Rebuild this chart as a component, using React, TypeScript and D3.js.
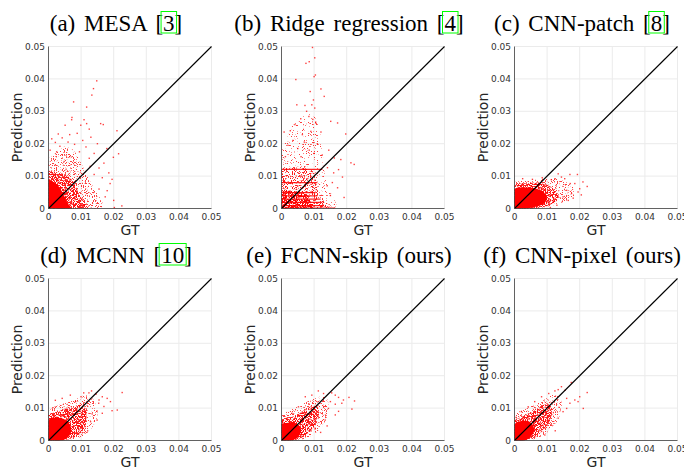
import React, { useRef, useEffect } from "react";
import * as d3 from "d3";

// all cloud / point values below are in units of 1e-3 : [GT, Prediction]
const UNIT = 1e-3;
const AXIS_MAX = 0.05;
const TICKS = [0, 0.01, 0.02, 0.03, 0.04, 0.05];
const TICK_LABELS = ["0", "0.01", "0.02", "0.03", "0.04", "0.05"];

const titles = ["(a) MESA", "(b) Ridge regression", "(c) CNN-patch", "(d) MCNN", "(e) FCNN-skip (ours)", "(f) CNN-pixel (ours)"];
const refs = ["3", "4", "8", "10", "", ""];

// (a) MESA
const mesaSpread = [[0,0],[16,0],[16.5,2],[15,4.5],[13.5,7],[12,10],[10.5,13],[9,16],[7,18.5],[4.5,19],[2,17],[0,15]];
const mesaDense = [[0,0],[12,0],[11,2],[9.5,4],[8.5,6.5],[7,9],[5,10.5],[2.5,11],[0,11.5]];
const mesaCore = [[0,0],[7,0],[6,1.5],[5,3.5],[4,5.5],[2.5,7.5],[1,8.5],[0,9]];
const mesaPoints = [[14.8,39.4],[13.8,37.0],[13.3,35.0],[7.7,32.9],[11.7,31.3],[7.2,28.1],[7.1,27.4],[10.9,27.4],[11.7,26.2],[16.0,26.2],[16.8,25.9],[5.1,25.7],[9.9,25.7],[21.0,24.0],[12.5,24.5],[3.0,23.0],[6.5,22.8],[8.8,23.2],[4.2,21.8],[1.0,21.5],[2.1,20.4],[10.5,21.0],[13.0,22.0],[6.0,20.5],[15.0,20.0],[8.0,19.8],[11.5,19.0],[3.5,19.2],[21.5,16.9],[19.9,15.8],[17.9,18.5],[14.0,17.0],[12.5,15.5],[9.5,17.5],[17.0,14.0],[15.5,12.5],[18.5,11.0],[16.5,9.5],[19.5,9.0],[18.9,7.7],[17.4,3.6],[20.2,0.3],[22.5,0.8],[15.5,6.0],[14.0,10.5],[12.8,13.0],[6.5,16.0],[2.5,17.5],[0.5,18.0],[4.8,14.5],[18.0,5.5],[20.0,2.5]];

// (b) Ridge regression
const ridgeSpread = [[0,0],[17,0],[16,3],[14.5,6],[13.5,9],[13,13],[12.5,19],[11.5,25],[9.5,29],[6,28],[3,25],[1,20],[0,17]];
const ridgeDense = [[0,0],[16.5,0],[14,1.5],[12,3.5],[11,6],[10.5,9],[9,12.5],[6,13],[2,12.5],[0,12.5]];
const ridgeCore = [[0,0],[10,0],[9,2],[8,4],[6,5],[3,5.5],[0,5.5]];
const ridgeStripes = [[12.1,0,12.5],[8.0,0,11],[4.9,0,10.5],[3.9,0,11],[2.9,0,12],[1.9,0,12.5],[0.9,0,13],[0.15,0,16.5]];
const ridgePoints = [[9.5,49.7],[10.2,46.5],[8.5,45.3],[7.5,44.8],[10.0,40.7],[4.4,39.8],[10.4,41.2],[8.8,36.1],[12.1,36.9],[9.8,33.5],[13.1,34.6],[9.3,32.0],[7.2,31.8],[4.7,32.0],[10.2,31.0],[7.7,30.0],[8.4,28.4],[5.9,27.7],[9.6,27.5],[4.1,25.9],[10.5,26.4],[15.1,26.9],[17.2,26.4],[2.7,24.0],[9.0,23.8],[12.1,23.6],[19.7,23.0],[0.8,23.6],[6.4,22.8],[21.3,14.1],[22.3,13.6],[18.2,15.1],[16.2,15.6],[18.7,9.7],[17.2,6.4],[19.2,3.4],[15.6,8.0],[14.1,12.6],[3.5,21.0],[7.0,20.5],[11.0,20.0],[5.0,18.5],[8.5,18.0],[10.0,17.0],[2.0,19.5],[12.5,16.5],[14.5,18.0],[1.2,16.0],[6.0,16.0],[16.0,11.0],[17.5,12.0],[15.0,4.0],[14.0,7.0]];

// (c) CNN-patch
const patchSpread = [[0,0],[6,0],[12,1],[16,2.5],[18.5,4],[18,6.5],[15,8.5],[11,9.5],[7,9],[3,8.5],[0,8]];
const patchDense = [[0,0],[8,0.3],[11.5,1.5],[13.5,3],[13,5],[10.5,7],[7,8],[3.5,7.8],[0,7]];
const patchCore = [[0,0],[6,0.5],[9,1.5],[10,3],[9,5],[6.5,6.2],[3,6.5],[0,6]];
const patchPoints = [[17.0,10.5],[19.3,10.5],[14.4,9.7],[15.4,9.2],[22.3,6.8],[21.0,8.2],[18.5,7.7],[17.1,7.7],[20.0,6.1],[16.0,5.6],[17.5,4.6],[13.4,10.7],[12.4,9.2],[11.3,8.9],[14.9,3.6],[19.5,5.1],[16.5,2.5],[13.0,1.0],[8.5,9.5],[5.5,9.0],[2.5,9.2],[18.0,3.2],[20.5,4.2],[11.0,0.3]];

// (d) MCNN
const mcnnSpread = [[0,0],[4,0],[9,0.8],[12,2.5],[14,5],[15,8],[14.5,11],[13,13.5],[11,14],[8,12.5],[5,11.5],[2,10.5],[0,9.5]];
const mcnnDense = [[0,0],[4,0],[8,1],[10.5,3],[11.5,6],[11.5,9],[10,11],[7.5,10.5],[4.5,9.5],[1.5,8.5],[0,8]];
const mcnnCore = [[0,0],[4,0],[6,1],[7,3],[6.5,5],[5,6.5],[3,7],[1,7],[0,6]];
const mcnnPoints = [[13.2,15.3],[12.4,14.7],[10.8,14.7],[14.6,14.3],[22.6,14.8],[16.5,13.5],[18.0,13.0],[19.0,12.0],[15.4,11.5],[19.5,9.2],[21.1,9.4],[14.9,9.1],[16.5,8.4],[13.4,8.2],[14.9,6.3],[12.9,5.8],[7.8,1.2],[11.3,4.3],[9.3,2.2],[6.7,14.0],[4.2,13.0],[2.1,12.4],[8.3,12.0],[10.0,13.5],[17.0,10.5],[12.0,3.0],[15.5,12.5]];

// (e) FCNN-skip
const skipSpread = [[0,0],[3,0],[7,0.5],[10,2],[12.5,4.5],[14,7.5],[14.5,10.5],[13.5,13.5],[11,13.5],[8,12],[5,10.5],[2,9],[0,7.5]];
const skipDense = [[0,0],[3,0],[6,0.8],[8.5,2.5],[10.5,5],[11.5,8],[11,10.5],[9,10.5],[6.5,9],[4,7.5],[1.5,7],[0,6]];
const skipCore = [[0,0],[3,0],[5,1],[6,3],[5.5,4.5],[4,5.5],[2,5.5],[0,5]];
const skipPoints = [[11.3,15.3],[12.9,14.5],[15.4,14.7],[16.5,14.0],[17.5,13.3],[19.0,12.5],[22.4,12.2],[20.7,13.3],[18.5,11.5],[16.5,11.2],[21.6,9.7],[14.4,9.9],[16.5,7.9],[13.4,6.3],[10.3,3.8],[8.8,3.3],[5.2,10.4],[3.2,8.4],[7.3,13.5],[9.3,14.0],[15.0,12.0],[12.0,2.5],[17.5,9.0],[14.0,4.5]];

// (f) CNN-pixel
const pixelSpread = [[0,0],[3,0],[7,0.8],[10,2.5],[12.5,5],[14,8],[14.5,11],[13.5,14],[11.5,14],[9,12.5],[6,11],[3,9.5],[0,8]];
const pixelDense = [[0,0],[3,0],[6,1],[8.5,3],[10.5,5.5],[11.5,8.5],[11,11],[9,11],[6.5,9.5],[4,8],[1.5,7],[0,6]];
const pixelCore = [[0,0],[3,0],[5,1.2],[6,3],[5.5,5],[4,6],[2,6],[0,5]];
const pixelPoints = [[17.4,17.9],[14.4,16.6],[13.4,15.7],[12.4,15.3],[15.5,15.5],[22.3,14.8],[20.0,13.5],[18.5,12.5],[19.5,12.0],[17.0,11.5],[16.0,9.9],[14.9,8.9],[21.1,9.9],[13.4,6.9],[11.3,4.8],[9.3,1.7],[8.3,2.8],[6.2,12.0],[4.2,10.4],[2.1,8.9],[8.3,13.5],[10.5,14.5],[16.0,13.0],[12.5,3.0]];

const spreads = [mesaSpread, ridgeSpread, patchSpread, mcnnSpread, skipSpread, pixelSpread];
const denses = [mesaDense, ridgeDense, patchDense, mcnnDense, skipDense, pixelDense];
const cores = [mesaCore, ridgeCore, patchCore, mcnnCore, skipCore, pixelCore];
const sparsePoints = [mesaPoints, ridgePoints, patchPoints, mcnnPoints, skipPoints, pixelPoints];

// layout
const COL_LEFT = [48.5, 281.5, 514.5];
const ROW_TOP = [46.5, 278.5];
const PLOT_W = 163;
const PLOT_H = 162;

const SANS = "'DejaVu Sans', sans-serif";
const SERIF = "'Liberation Serif', 'Times New Roman', serif";

// speckle filter: keeps the fill only where a noise texture passes a threshold
function addSpeckle(defs: any, id: string, threshold: number, seed: number) {
  const f = defs.append("filter").attr("id", id)
    .attr("filterUnits", "userSpaceOnUse")
    .attr("x", 0).attr("y", 0).attr("width", 684).attr("height", 468);
  f.append("feTurbulence").attr("type", "fractalNoise").attr("baseFrequency", 0.9)
    .attr("numOctaves", 2).attr("seed", seed).attr("result", "noise");
  const k = 14;
  f.append("feColorMatrix").attr("in", "noise").attr("type", "matrix")
    .attr("values", `0 0 0 0 0  0 0 0 0 0  0 0 0 0 0  ${k} 0 0 0 ${-k * threshold}`)
    .attr("result", "mask");
  f.append("feComposite").attr("in", "SourceGraphic").attr("in2", "mask").attr("operator", "in");
}

export default function App() {
  const svgRef = useRef<SVGSVGElement>(null);

  useEffect(() => {
    const svg = d3.select(svgRef.current);
    svg.selectAll("*").remove();
    const defs = svg.append("defs");
    addSpeckle(defs, "speck-sparse", 0.64, 2);
    addSpeckle(defs, "speck-lo", 0.56, 4);
    addSpeckle(defs, "speck-mid", 0.46, 9);

    titles.forEach((title, i) => {
      const left = COL_LEFT[i % 3];
      const top = ROW_TOP[Math.floor(i / 3)];
      const x = d3.scaleLinear().domain([0, AXIS_MAX]).range([left, left + PLOT_W]);
      const y = d3.scaleLinear().domain([0, AXIS_MAX]).range([top + PLOT_H, top]);
      const g = svg.append("g");

      // grid
      g.selectAll(".gx").data(TICKS.slice(1)).enter().append("line")
        .attr("x1", (d) => x(d)).attr("x2", (d) => x(d))
        .attr("y1", top).attr("y2", top + PLOT_H)
        .attr("stroke", "#ebebeb");
      g.selectAll(".gy").data(TICKS.slice(1)).enter().append("line")
        .attr("y1", (d) => y(d)).attr("y2", (d) => y(d))
        .attr("x1", left).attr("x2", left + PLOT_W)
        .attr("stroke", "#ebebeb");

      // clip
      const clipId = `clip-${i}`;
      defs.append("clipPath").attr("id", clipId).append("rect")
        .attr("x", left).attr("y", top - 1).attr("width", PLOT_W + 1).attr("height", PLOT_H + 1);

      const data = g.append("g").attr("clip-path", `url(#${clipId})`);
      const blob = d3.line<number[]>()
        .x((d) => x(d[0] * UNIT))
        .y((d) => y(d[1] * UNIT))
        .curve(d3.curveCatmullRomClosed.alpha(0.5));

      data.append("path").attr("d", blob(spreads[i])).attr("fill", "#ff1a1a")
        .attr("fill-opacity", 0.85).attr("filter", i === 1 ? "url(#speck-sparse)" : "url(#speck-lo)");
      data.append("path").attr("d", blob(denses[i])).attr("fill", "#ff0000")
        .attr("fill-opacity", 0.9).attr("filter", i === 1 ? "url(#speck-lo)" : "url(#speck-mid)");
      data.append("path").attr("d", blob(cores[i])).attr("fill", "#ff0000")
        .attr("fill-opacity", 1).attr("filter", i === 1 ? "url(#speck-mid)" : null);

      if (i === 1) {
        data.selectAll(".stripe").data(ridgeStripes).enter().append("line")
          .attr("x1", (d) => x(d[1] * UNIT)).attr("x2", (d) => x(d[2] * UNIT))
          .attr("y1", (d) => y(d[0] * UNIT)).attr("y2", (d) => y(d[0] * UNIT))
          .attr("stroke", "#ff0000").attr("stroke-width", 1.2).attr("stroke-opacity", 0.85);
      }

      data.selectAll(".pt").data(sparsePoints[i]).enter().append("rect")
        .attr("x", (d) => x(d[0] * UNIT) - 0.7)
        .attr("y", (d) => y(d[1] * UNIT) - 0.7)
        .attr("width", 1.4).attr("height", 1.4)
        .attr("fill", "#ff0000").attr("fill-opacity", 0.75);

      // identity line
      g.append("line")
        .attr("x1", x(0)).attr("y1", y(0)).attr("x2", x(AXIS_MAX)).attr("y2", y(AXIS_MAX))
        .attr("stroke", "#000").attr("stroke-width", 1.1);

      // axes
      g.append("line").attr("x1", left).attr("x2", left).attr("y1", top).attr("y2", top + PLOT_H)
        .attr("stroke", "#3a3a3a").attr("stroke-width", 0.8);
      g.append("line").attr("x1", left).attr("x2", left + PLOT_W).attr("y1", top + PLOT_H).attr("y2", top + PLOT_H)
        .attr("stroke", "#3a3a3a").attr("stroke-width", 0.8);

      // tick labels
      g.selectAll(".tx").data(TICKS).enter().append("text")
        .attr("x", (d) => x(d)).attr("y", top + PLOT_H + 11)
        .attr("text-anchor", "middle").attr("font-family", SANS).attr("font-size", 9)
        .attr("fill", "#333").text((d, k) => TICK_LABELS[k]);
      g.selectAll(".ty").data(TICKS).enter().append("text")
        .attr("x", left - 3.5).attr("y", (d) => y(d)).attr("dy", "0.35em")
        .attr("text-anchor", "end").attr("font-family", SANS).attr("font-size", 9)
        .attr("fill", "#333").text((d, k) => TICK_LABELS[k]);

      // axis labels
      g.append("text")
        .attr("transform", `translate(${left - 26.5},${top + PLOT_H / 2}) rotate(-90)`)
        .attr("text-anchor", "middle").attr("font-family", SANS).attr("font-size", 14)
        .attr("fill", "#262626").text("Prediction");
      g.append("text")
        .attr("x", left + PLOT_W / 2).attr("y", top + PLOT_H + 26)
        .attr("text-anchor", "middle").attr("font-family", SANS).attr("font-size", 14)
        .attr("fill", "#262626").text("GT");

      // title with boxed reference number
      const ref = refs[i];
      const full = ref ? `${title} [${ref}]` : title;
      const t = g.append("text")
        .attr("x", left + PLOT_W / 2 - 14).attr("y", top - 15.5)
        .attr("text-anchor", "middle").attr("font-family", SERIF).attr("font-size", 23)
        .attr("word-spacing", 3).attr("fill", "#000").text(full);
      if (ref) {
        const node = t.node() as SVGTextElement;
        const start = title.length + 2;
        const a = node.getExtentOfChar(start);
        const b = node.getExtentOfChar(start + ref.length - 1);
        const bx0 = a.x - 2;
        const bx1 = b.x + b.width + 2;
        g.append("rect")
          .attr("x", bx0).attr("y", top - 15.5 - 19.5)
          .attr("width", bx1 - bx0).attr("height", 21.5)
          .attr("fill", "none").attr("stroke", "#00ff00").attr("stroke-width", 1);
      }
    });
  }, []);

  return (
    <div style={{ position: "absolute", left: 0, top: 0, background: "#fff" }}>
      <svg ref={svgRef} width={684} height={468} style={{ display: "block" }} />
    </div>
  );
}
